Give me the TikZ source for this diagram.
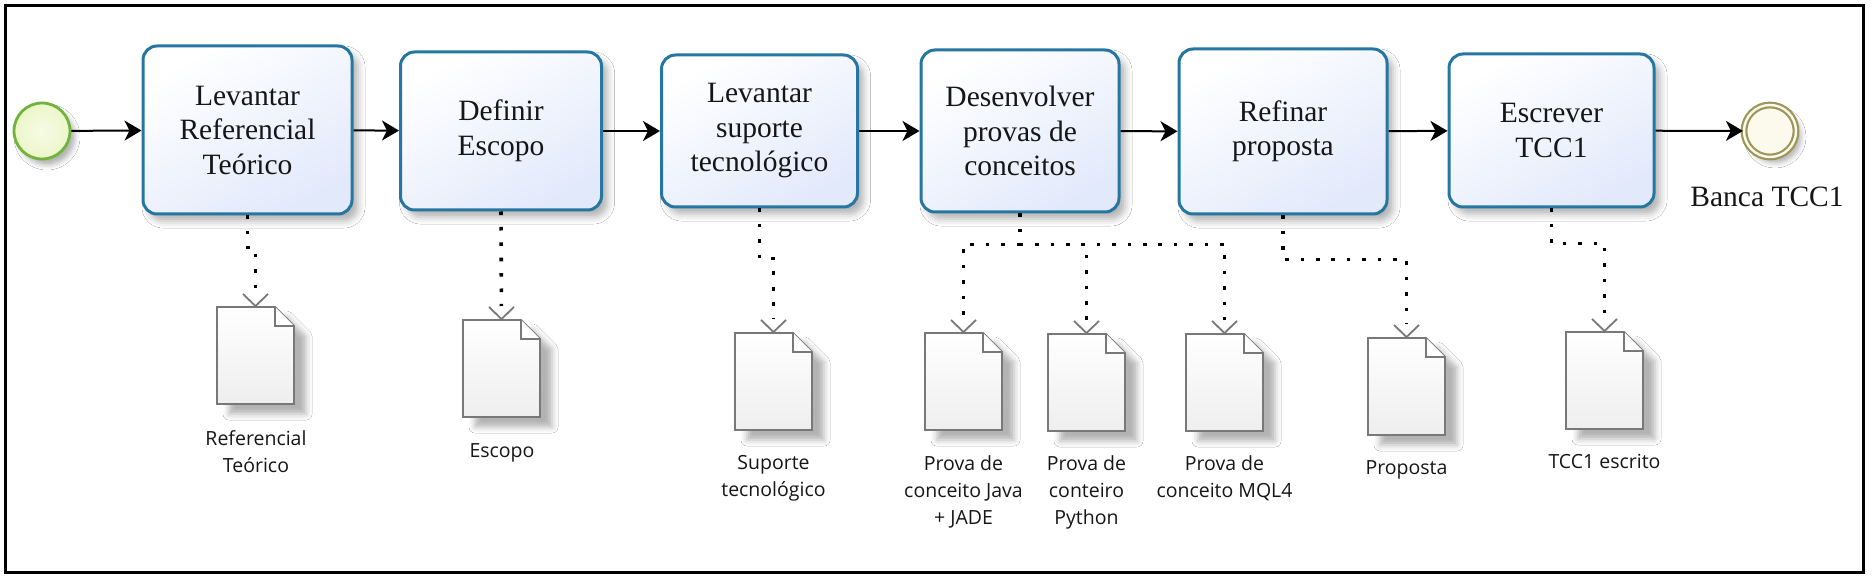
\documentclass[tikz,border=0pt]{standalone}
\usepackage{fontspec}
\setmainfont{Liberation Serif}
\newfontfamily\lblfont{Open Sans}
\usetikzlibrary{arrows.meta,shadows.blur,calc}
\definecolor{taskline}{RGB}{38,118,162}
\definecolor{taskfill}{RGB}{226,233,251}
\definecolor{startline}{RGB}{112,180,62}
\definecolor{startfill}{RGB}{236,246,200}
\definecolor{endline}{RGB}{158,150,88}
\definecolor{endfill}{RGB}{252,250,236}
\definecolor{docline}{RGB}{120,120,120}
\definecolor{docfill}{RGB}{238,238,238}
\definecolor{txt}{RGB}{22,22,22}
\newcommand\docdraw[1]{%
  \draw[docshape, blur shadow={shadow xshift=12pt,shadow yshift=-10pt,shadow blur radius=6pt,shadow opacity=30}]
    (#1.north west) -- ($(#1.north east)+(-19,0)$) -- ($(#1.north east)+(0,19)$)
    -- (#1.south east) -- (#1.south west) -- cycle;
  \draw[docline, line width=1.8pt, fill=white, line join=miter]
    ($(#1.north east)+(-19,0)$) -- ($(#1.north east)+(-19,19)$) -- ($(#1.north east)+(0,19)$);
}
\newcommand\barbto[1]{%
  \draw[docline, line width=1.8pt, line join=miter]
    ($(#1.north)+(-12.5,-13)$) -- ($(#1.north)+(0,-1)$) -- ($(#1.north)+(12.5,-13)$);
}
\begin{document}
\begin{tikzpicture}[x=1pt,y=-1pt,
  task/.style={draw=taskline, line width=3pt, rounded corners=14pt,
    top color=white, bottom color=taskfill, shading angle=30,
    blur shadow={shadow xshift=6pt,shadow yshift=-7pt,shadow blur radius=7pt,shadow opacity=30},
    align=center, text=txt, font=\fontsize{29.5}{34.5}\selectfont, inner sep=0pt},
  startev/.style={circle, draw=startline, line width=2.8pt, inner color=startfill!45!white, outer color=startfill,
    minimum size=56pt, inner sep=0pt,
    blur shadow={shadow xshift=5pt,shadow yshift=-6pt,shadow blur radius=5pt,shadow opacity=30}},
  endev/.style={circle, draw=endline, line width=2.2pt, double=endfill, double distance=2.4pt,
    fill=endfill, minimum size=52pt, inner sep=0pt,
    blur shadow={shadow xshift=5pt,shadow yshift=-6pt,shadow blur radius=5pt,shadow opacity=30}},
  docnode/.style={minimum width=77pt, minimum height=97pt, inner sep=0pt, outer sep=0pt},
  docshape/.style={draw=docline, line width=1.8pt, top color=white, bottom color=docfill, line join=miter},
  lbl/.style={font=\lblfont\fontsize{19.5}{27}\selectfont, align=center, anchor=north, inner sep=0pt, text=txt},
  evlbl/.style={font=\fontsize{29.5}{34.5}\selectfont, anchor=base, inner sep=0pt, text=txt},
  flow/.style={line width=2pt, -{Stealth[length=17pt,width=20pt,inset=5pt]}},
  assoc/.style={line width=3.6pt, dash pattern=on 3.6pt off 11.8pt, shorten >=14pt}
]
\useasboundingbox (0,0) rectangle (1872,580);
\fill[white] (0,0) rectangle (1872,580);

% events
\node[startev] (s) at (42,131) {};
\node[endev] (e) at (1770,131) {};
\node[evlbl] (bl) at (1767,207) {Banca TCC1};

% tasks
\node[task, minimum width=209pt, minimum height=168pt] (t1) at (247.5,130) {Levantar\\Referencial\\Teórico};
\node[task, minimum width=201pt, minimum height=158pt] (t2) at (501,131) {Definir\\Escopo};
\node[task, minimum width=196pt, minimum height=152pt] (t3) at (759.5,131) {Levantar\\suporte\\tecnológico};
\node[task, minimum width=198pt, minimum height=162pt] (t4) at (1020,131) {Desenvolver\\provas de\\conceitos};
\node[task, minimum width=208pt, minimum height=165pt] (t5) at (1283,131.5) {Refinar\\proposta};
\node[task, minimum width=205pt, minimum height=153pt] (t6) at (1551.5,130.5) {Escrever\\TCC1};

% sequence flows
\draw[flow] (s) -- (t1);
\draw[flow] (t1) -- (t2);
\draw[flow] (t2) -- (t3);
\draw[flow] (t3) -- (t4);
\draw[flow] (t4) -- (t5);
\draw[flow] (t5) -- (t6);
\draw[flow] (t6) -- (e);

% data objects
\node[docnode] (d1) at (255.5,355.5) {};
\node[docnode] (d2) at (501.5,368.5) {};
\node[docnode] (d3) at (773.5,381.5) {};
\node[docnode] (d4) at (963.5,381.5) {};
\node[docnode] (d5) at (1086.5,382.5) {};
\node[docnode] (d6) at (1224.5,382.5) {};
\node[docnode] (d7) at (1406.5,386.5) {};
\node[docnode] (d8) at (1604.5,380.5) {};
\docdraw{d1}\docdraw{d2}\docdraw{d3}\docdraw{d4}
\docdraw{d5}\docdraw{d6}\docdraw{d7}\docdraw{d8}

% associations
\draw[assoc] (t1.south) -- ++(0,32) -| (d1.north);
\draw[assoc] (t2.south) -- (d2.north);
\draw[assoc] (t3.south) -- ++(0,50) -| (d3.north);
\draw[assoc] (t4.south) -- ++(0,31) -| (d4.north);
\draw[assoc] (t4.south) -- ++(0,31) -| (d5.north);
\draw[assoc] (t4.south) -- ++(0,31) -| (d6.north);
\draw[assoc] (t5.south) -- ++(0,44) -| (d7.north);
\draw[assoc] (t6.south) -- ++(0,35) -| (d8.north);
\barbto{d1}\barbto{d2}\barbto{d3}\barbto{d4}
\barbto{d5}\barbto{d6}\barbto{d7}\barbto{d8}

% labels
\node[lbl] (l1) at (256,430.5) {Referencial\\Teórico};
\node[lbl] (l2) at (502,443.5) {Escopo};
\node[lbl] (l3) at (773.5,455.5) {Suporte\\tecnológico};
\node[lbl] (l4) at (963.5,455.5) {Prova de\\conceito Java\\+ JADE};
\node[lbl] (l5) at (1086.5,455.5) {Prova de\\conteiro\\Python};
\node[lbl] (l6) at (1224.5,455.5) {Prova de\\conceito MQL4};
\node[lbl] (l7) at (1406.5,460.5) {Proposta};
\node[lbl] (l8) at (1604.5,453.5) {TCC1 escrito};

% frame
\draw[line width=3pt] (5,6) rectangle (1863,572);
\end{tikzpicture}
\end{document}
